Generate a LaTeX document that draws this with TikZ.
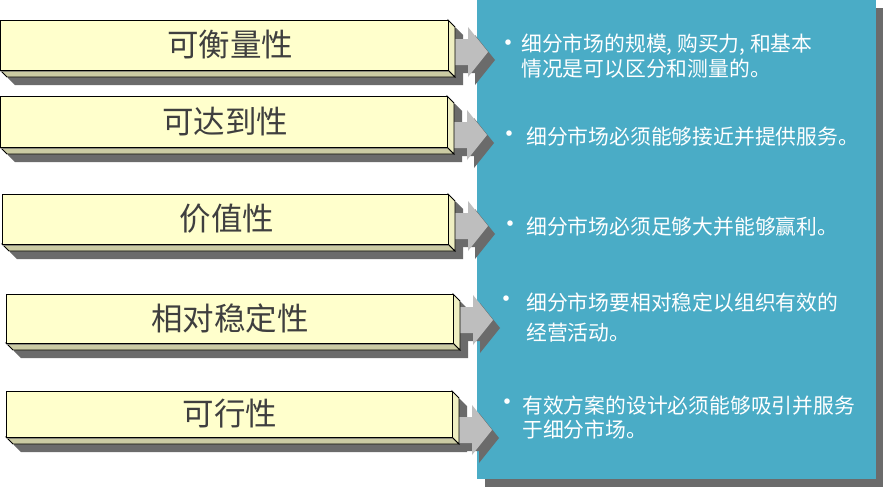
\documentclass[tikz,border=0pt]{standalone}
\usepackage{fontspec}
\setmainfont{Noto Sans CJK SC}
\definecolor{boxface}{HTML}{FFFFCC}
\definecolor{boxbevel}{HTML}{CBCBA3}
\definecolor{boxside}{HTML}{EFEFC2}
\definecolor{shadowgray}{HTML}{6B6B6B}
\definecolor{arrowgray}{HTML}{BEBEBE}
\definecolor{panelblue}{HTML}{4AACC6}
\definecolor{labelgray}{HTML}{3F3F3F}
\tikzset{
  boxlabel/.style={text=labelgray,font=\fontsize{31.5}{31.5}\selectfont,inner sep=0pt},
  paneltext/.style={text=white,font=\fontsize{20.8}{20.8}\selectfont,inner sep=0pt,anchor=west},
  bulletmark/.style={text=white,font=\fontsize{26}{26}\selectfont,inner sep=0pt},
  edge/.style={draw=black,line width=0.9pt,line join=miter},
}
% #1 name, #2 x1, #3 y1, #4 x2, #5 y2, #6 label x, #7 arrow centre y, #8 text
\newcommand\ThreeDBox[8]{%
  \def\dd{7}\def\ss{8}%
  % shadow of the block
  \fill[shadowgray] (#2+\ss,#3+\ss) -- (#4+\ss,#3+\ss) -- (#4+\dd+\ss,#3+\dd+\ss)
     -- (#4+\dd+\ss,#5+\dd+\ss) -- (#2+\dd+\ss,#5+\dd+\ss) -- (#2+\ss,#5+\ss) -- cycle;
  % arrow shadow and arrow
  \coordinate (#1a) at (#4,#7);
  \fill[shadowgray] ([shift={(7,8)}]#1a) ++(0,-13) -- ++(20,0) -- ++(0,-12) -- ++(20,25)
     -- ++(-20,25) -- ++(0,-12) -- ++(-20,0) -- cycle;
  \fill[arrowgray] (#1a) ++(0,-13) -- ++(20,0) -- ++(0,-12) -- ++(20,25)
     -- ++(-20,25) -- ++(0,-12) -- ++(-20,0) -- cycle;
  % bevels
  \filldraw[fill=boxbevel,edge] (#2,#5) -- (#4,#5) -- (#4+\dd,#5+\dd) -- (#2+\dd,#5+\dd) -- cycle;
  \filldraw[fill=boxside,edge] (#4,#3) -- (#4+\dd,#3+\dd) -- (#4+\dd,#5+\dd) -- (#4,#5) -- cycle;
  \draw[shadowgray!70!boxbevel,line width=1pt] (#2+1,#5+1.5) -- (#4,#5+1.5);
  % front face
  \filldraw[fill=boxface,edge] (#2,#3) rectangle (#4,#5);
  \node[boxlabel] (#1) at (#6,{(#3+#5)/2}) {#8};
}
\begin{document}
\begin{tikzpicture}[x=1pt,y=-1pt]
\useasboundingbox (0,0) rectangle (890,488);
\fill[white] (0,0) rectangle (890,488);
% panel
\fill[shadowgray] (485,8) rectangle (883,487);
\fill[panelblue] (477,0) rectangle (876,479);
% boxes
\ThreeDBox{b1}{0}{20}{448}{70}{230}{52}{可衡量性}
\ThreeDBox{b2}{0}{96}{447}{147}{225}{135}{可达到性}
\ThreeDBox{b3}{2}{194}{448}{244}{227}{226}{价值性}
\ThreeDBox{b4}{6}{294}{453}{343}{230}{320}{相对稳定性}
\ThreeDBox{b5}{6}{391}{452}{437}{230}{430}{可行性}
% panel texts
\node[bulletmark] (d1) at (508,46) {•};
\node[paneltext] (t1a) at (521,45) {细分市场的规模, 购买力, 和基本};
\node[paneltext] (t1b) at (521,69) {情况是可以区分和测量的。};
\node[bulletmark] (d2) at (509,137) {•};
\node[paneltext] (t2) at (526,137) {细分市场必须能够接近并提供服务。};
\node[bulletmark] (d3) at (510,227) {•};
\node[paneltext] (t3) at (526,227) {细分市场必须足够大并能够赢利。};
\node[bulletmark] (d4) at (506,302) {•};
\node[paneltext] (t4a) at (526,303) {细分市场要相对稳定以组织有效的};
\node[paneltext] (t4b) at (526,333) {经营活动。};
\node[bulletmark] (d5) at (507,405) {•};
\node[paneltext] (t5a) at (522,406) {有效方案的设计必须能够吸引并服务};
\node[paneltext] (t5b) at (522,430) {于细分市场。};
\end{tikzpicture}
\end{document}
